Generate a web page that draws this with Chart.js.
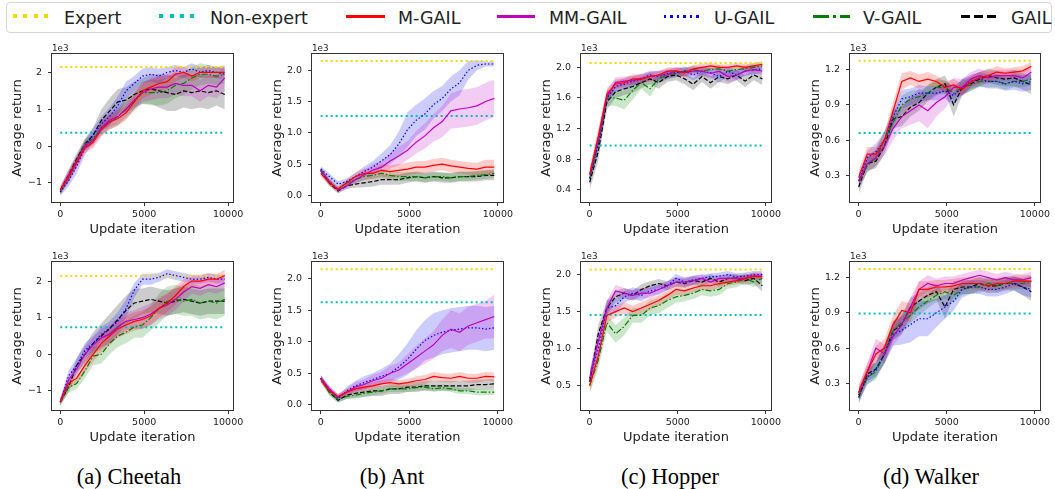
<!DOCTYPE html>
<html>
<head>
<meta charset="UTF-8">
<title>Average return of GAIL variants</title>
<script src="https://cdn.jsdelivr.net/npm/chart.js@4.4.0/dist/chart.umd.min.js"></script>
<style>
  body { margin:0; width:1055px; height:489px; background:#fff; position:relative; overflow:hidden; font-family:"DejaVu Sans", sans-serif; }
  canvas { position:absolute; }
  #legendBox { position:absolute; left:6px; top:2px; width:1044px; height:29px; border:1px solid #d6d6d6; border-radius:4px; }
  .key { position:absolute; top:15px; height:3px; }
  .lab { position:absolute; top:8px; font-size:17.5px; line-height:20px; color:#222; white-space:nowrap; }
  .cap { position:absolute; top:464px; font-family:"Liberation Serif", serif; font-size:22.5px; line-height:26px; color:#000; white-space:nowrap; transform:translateX(-50%); }
</style>
</head>
<body>
<div id="legendBox"></div>
<div class="key" style="left:13px;width:35px;height:4px;top:14px;background:repeating-linear-gradient(90deg,#ffd700 0 4px,transparent 4px 10.5px)"></div>
<div class="lab" style="left:64px">Expert</div>
<div class="key" style="left:159px;width:35px;height:4px;top:14px;background:repeating-linear-gradient(90deg,#00bfbf 0 4px,transparent 4px 10.5px)"></div>
<div class="lab" style="left:210px">Non-expert</div>
<div class="key" style="left:346px;width:39px;background:#ff0000"></div>
<div class="lab" style="left:398px">M-GAIL</div>
<div class="key" style="left:497px;width:38px;background:#bf00bf"></div>
<div class="lab" style="left:549px">MM-GAIL</div>
<div class="key" style="left:664px;width:37px;background:repeating-linear-gradient(90deg,#0000ff 0 2.5px,transparent 2.5px 6.5px)"></div>
<div class="lab" style="left:714px">U-GAIL</div>
<div class="key" style="left:813px;width:37px;background:linear-gradient(90deg,#008000 0 16px,transparent 16px 20px,#008000 20px 23px,transparent 23px 27px,#008000 27px 37px)"></div>
<div class="lab" style="left:863px">V-GAIL</div>
<div class="key" style="left:961px;width:35px;background:repeating-linear-gradient(90deg,#000 0 9px,transparent 9px 13px)"></div>
<div class="lab" style="left:1011px">GAIL</div>

<div class="cap" style="left:129px">(a) Cheetah</div>
<div class="cap" style="left:392px">(b) Ant</div>
<div class="cap" style="left:670px">(c) Hopper</div>
<div class="cap" style="left:931px">(d) Walker</div>

<script>
    // update iterations shared by every curve
    const iters = [0, 490, 980, 1470, 1960, 2450, 2940, 3430, 3920, 4410, 4900, 5390, 5880, 6370, 6860, 7350, 7840, 8330, 8820, 9310, 9800];

    // average return (x1e3), top row
    const cheetahA_M  = [-1.2, -0.85, -0.45, -0.05, 0.1, 0.45, 0.65, 0.75, 0.9, 1.2, 1.5, 1.6, 1.7, 1.75, 1.95, 2.0, 1.9, 2.0, 2.0, 2.0, 2.0];
    const cheetahA_MM = [-1.2, -0.8, -0.4, 0.0, 0.15, 0.5, 0.7, 0.8, 1.0, 1.25, 1.45, 1.55, 1.6, 1.6, 1.7, 1.65, 1.65, 1.5, 1.65, 1.6, 1.85];
    const cheetahA_U  = [-1.25, -0.95, -0.55, -0.05, 0.3, 0.6, 0.8, 1.1, 1.5, 1.7, 1.9, 1.95, 1.9, 2.0, 2.05, 2.0, 2.1, 2.0, 2.05, 2.0, 1.95];
    const cheetahA_V  = [-1.25, -0.85, -0.4, 0.05, 0.2, 0.5, 0.65, 0.8, 1.0, 1.2, 1.45, 1.45, 1.45, 1.5, 1.65, 1.7, 1.85, 1.95, 1.95, 1.9, 1.95];
    const cheetahA_G  = [-1.2, -0.8, -0.35, 0.05, 0.3, 0.7, 0.95, 1.2, 1.25, 1.4, 1.5, 1.55, 1.5, 1.45, 1.4, 1.5, 1.45, 1.5, 1.45, 1.5, 1.4];

    const antA_M  = [0.35, 0.2, 0.1, 0.2, 0.3, 0.35, 0.35, 0.4, 0.38, 0.4, 0.42, 0.45, 0.45, 0.48, 0.5, 0.47, 0.45, 0.43, 0.42, 0.45, 0.45];
    const antA_MM = [0.4, 0.22, 0.08, 0.15, 0.25, 0.33, 0.4, 0.45, 0.55, 0.63, 0.72, 0.85, 0.95, 1.08, 1.18, 1.35, 1.38, 1.4, 1.43, 1.5, 1.55];
    const antA_U  = [0.42, 0.3, 0.18, 0.22, 0.3, 0.38, 0.45, 0.55, 0.65, 0.82, 1.05, 1.2, 1.3, 1.45, 1.55, 1.7, 1.8, 2.0, 2.08, 2.1, 2.1];
    const antA_V  = [0.4, 0.22, 0.1, 0.2, 0.25, 0.3, 0.32, 0.35, 0.32, 0.3, 0.3, 0.3, 0.28, 0.3, 0.3, 0.28, 0.3, 0.3, 0.32, 0.33, 0.35];
    const antA_G  = [0.4, 0.2, 0.07, 0.15, 0.18, 0.2, 0.22, 0.25, 0.25, 0.25, 0.28, 0.3, 0.28, 0.3, 0.28, 0.28, 0.3, 0.3, 0.3, 0.32, 0.32];

    const hopperA_M  = [0.6, 1.1, 1.65, 1.78, 1.8, 1.85, 1.85, 1.88, 1.9, 1.95, 1.95, 1.93, 1.98, 2.0, 2.02, 2.0, 2.0, 2.02, 2.0, 2.02, 2.04];
    const hopperA_MM = [0.6, 1.05, 1.62, 1.8, 1.82, 1.83, 1.85, 1.88, 1.9, 1.9, 1.95, 1.93, 1.95, 1.95, 1.92, 1.95, 1.88, 1.9, 1.95, 1.97, 1.95];
    const hopperA_U  = [0.55, 1.0, 1.6, 1.75, 1.78, 1.82, 1.85, 1.9, 1.88, 1.92, 1.93, 1.95, 1.9, 1.95, 1.93, 1.88, 1.95, 1.9, 1.95, 1.97, 1.98];
    const hopperA_V  = [0.55, 1.0, 1.6, 1.6, 1.57, 1.7, 1.8, 1.72, 1.85, 1.9, 1.92, 1.95, 1.97, 1.95, 1.97, 1.98, 1.95, 1.97, 1.98, 2.0, 2.02];
    const hopperA_G  = [0.5, 0.9, 1.55, 1.68, 1.72, 1.75, 1.8, 1.85, 1.8, 1.88, 1.9, 1.85, 1.78, 1.88, 1.8, 1.88, 1.85, 1.9, 1.82, 1.9, 1.85];

    const walkerA_M  = [0.28, 0.48, 0.48, 0.6, 0.85, 1.1, 1.13, 1.1, 1.12, 1.1, 1.05, 1.07, 1.03, 1.1, 1.13, 1.15, 1.18, 1.17, 1.18, 1.19, 1.23];
    const walkerA_MM = [0.25, 0.4, 0.45, 0.55, 0.7, 0.8, 0.85, 0.9, 0.85, 0.92, 0.97, 1.05, 1.05, 1.12, 1.15, 1.13, 1.15, 1.15, 1.15, 1.13, 1.18];
    const walkerA_U  = [0.25, 0.45, 0.5, 0.6, 0.8, 0.95, 0.97, 1.0, 1.0, 1.0, 1.02, 0.98, 1.05, 1.1, 1.12, 1.1, 1.1, 1.08, 1.1, 1.08, 1.1];
    const walkerA_V  = [0.25, 0.38, 0.45, 0.6, 0.75, 0.9, 0.95, 0.97, 1.0, 1.05, 1.05, 1.0, 1.05, 1.07, 1.1, 1.1, 1.1, 1.08, 1.1, 1.1, 1.12];
    const walkerA_G  = [0.2, 0.4, 0.42, 0.55, 0.78, 0.8, 0.88, 0.92, 1.0, 1.05, 1.08, 0.9, 1.05, 1.08, 1.12, 1.15, 1.13, 1.12, 1.13, 1.1, 1.07];

    // average return (x1e3), bottom row
    const cheetahB_M  = [-1.3, -0.8, -0.65, -0.3, 0.0, 0.3, 0.5, 0.7, 0.8, 0.9, 0.95, 1.05, 1.25, 1.4, 1.6, 1.85, 2.0, 2.0, 2.05, 2.05, 2.15];
    const cheetahB_MM = [-1.3, -0.7, -0.4, 0.0, 0.25, 0.45, 0.55, 0.75, 0.9, 0.95, 1.0, 1.1, 1.25, 1.35, 1.5, 1.7, 1.85, 1.8, 1.9, 1.85, 1.95];
    const cheetahB_U  = [-1.3, -0.6, -0.3, 0.1, 0.3, 0.55, 0.7, 0.9, 1.25, 1.75, 2.05, 2.05, 2.1, 2.2, 2.15, 2.1, 2.05, 2.05, 2.1, 2.05, 2.05];
    const cheetahB_V  = [-1.3, -0.9, -0.8, -0.45, -0.05, 0.0, 0.3, 0.5, 0.6, 0.75, 0.8, 1.0, 1.25, 1.45, 1.5, 1.45, 1.5, 1.4, 1.45, 1.4, 1.5];
    const cheetahB_G  = [-1.3, -0.9, -0.3, 0.0, 0.3, 0.5, 0.7, 0.95, 1.2, 1.4, 1.45, 1.5, 1.45, 1.4, 1.45, 1.5, 1.45, 1.4, 1.45, 1.45, 1.45];

    const antB_M  = [0.4, 0.22, 0.13, 0.2, 0.25, 0.28, 0.3, 0.33, 0.35, 0.33, 0.35, 0.38, 0.4, 0.45, 0.43, 0.42, 0.45, 0.42, 0.42, 0.45, 0.44];
    const antB_MM = [0.42, 0.25, 0.12, 0.2, 0.28, 0.32, 0.38, 0.42, 0.5, 0.55, 0.65, 0.75, 0.85, 0.95, 1.1, 1.2, 1.15, 1.25, 1.3, 1.35, 1.4];
    const antB_U  = [0.42, 0.25, 0.1, 0.22, 0.3, 0.35, 0.4, 0.45, 0.5, 0.6, 0.72, 0.88, 1.02, 1.1, 1.15, 1.18, 1.2, 1.22, 1.22, 1.2, 1.22];
    const antB_V  = [0.42, 0.2, 0.08, 0.13, 0.15, 0.18, 0.2, 0.22, 0.25, 0.25, 0.25, 0.27, 0.28, 0.25, 0.27, 0.25, 0.22, 0.22, 0.2, 0.2, 0.2];
    const antB_G  = [0.42, 0.2, 0.07, 0.15, 0.18, 0.2, 0.22, 0.22, 0.25, 0.25, 0.28, 0.28, 0.3, 0.3, 0.3, 0.3, 0.3, 0.3, 0.32, 0.32, 0.33];

    const hopperB_M  = [0.5, 0.9, 1.45, 1.5, 1.55, 1.5, 1.55, 1.6, 1.65, 1.72, 1.8, 1.78, 1.82, 1.85, 1.85, 1.88, 1.9, 1.92, 1.95, 1.98, 1.97];
    const hopperB_MM = [0.6, 1.1, 1.55, 1.78, 1.75, 1.72, 1.75, 1.75, 1.8, 1.85, 1.9, 1.9, 1.92, 1.95, 1.9, 1.95, 1.95, 1.95, 1.95, 1.98, 1.98];
    const hopperB_U  = [0.6, 1.0, 1.55, 1.58, 1.7, 1.75, 1.72, 1.78, 1.8, 1.85, 1.95, 1.9, 1.93, 1.95, 1.97, 1.98, 2.0, 1.97, 1.98, 2.0, 2.0];
    const hopperB_V  = [0.5, 0.85, 1.35, 1.2, 1.3, 1.45, 1.45, 1.55, 1.58, 1.65, 1.7, 1.72, 1.75, 1.8, 1.78, 1.8, 1.88, 1.9, 1.95, 1.9, 1.95];
    const hopperB_G  = [0.55, 1.2, 1.55, 1.7, 1.75, 1.72, 1.8, 1.85, 1.88, 1.85, 1.9, 1.88, 1.92, 1.9, 1.95, 1.9, 1.95, 1.95, 1.92, 1.95, 1.85];

    const walkerB_M  = [0.22, 0.4, 0.55, 0.6, 0.8, 0.92, 0.9, 1.1, 1.1, 1.12, 1.12, 1.13, 1.15, 1.15, 1.15, 1.13, 1.15, 1.15, 1.17, 1.17, 1.17];
    const walkerB_MM = [0.22, 0.4, 0.6, 0.55, 0.7, 0.8, 0.95, 1.1, 1.15, 1.13, 1.15, 1.15, 1.18, 1.2, 1.22, 1.2, 1.18, 1.2, 1.18, 1.18, 1.2];
    const walkerB_U  = [0.2, 0.35, 0.42, 0.55, 0.72, 0.75, 0.8, 0.85, 0.85, 0.9, 0.95, 1.0, 1.1, 1.12, 1.12, 1.1, 1.1, 1.12, 1.15, 1.12, 1.1];
    const walkerB_V  = [0.2, 0.35, 0.4, 0.55, 0.75, 0.82, 0.88, 0.95, 1.0, 1.05, 1.08, 1.05, 1.1, 1.12, 1.12, 1.15, 1.13, 1.15, 1.15, 1.15, 1.17];
    const walkerB_G  = [0.18, 0.38, 0.42, 0.55, 0.75, 0.8, 0.95, 1.0, 1.05, 1.08, 0.95, 1.1, 1.12, 1.12, 1.15, 1.13, 1.13, 1.15, 1.15, 1.12, 1.08];

    // spread (x1e3) of the shaded bands
    const cheetahA_M_sd  = [0.1, 0.15, 0.15, 0.15, 0.15, 0.2, 0.2, 0.2, 0.2, 0.2, 0.2, 0.2, 0.2, 0.2, 0.2, 0.15, 0.15, 0.15, 0.15, 0.15, 0.15];
    const cheetahA_MM_sd = [0.1, 0.15, 0.15, 0.15, 0.15, 0.2, 0.2, 0.2, 0.2, 0.25, 0.25, 0.3, 0.3, 0.3, 0.3, 0.3, 0.3, 0.3, 0.3, 0.3, 0.35];
    const cheetahA_U_sd  = [0.1, 0.15, 0.2, 0.2, 0.2, 0.2, 0.25, 0.25, 0.25, 0.2, 0.2, 0.2, 0.2, 0.15, 0.15, 0.15, 0.15, 0.15, 0.15, 0.15, 0.15];
    const cheetahA_V_sd  = [0.1, 0.15, 0.15, 0.15, 0.15, 0.2, 0.2, 0.25, 0.25, 0.25, 0.3, 0.35, 0.35, 0.35, 0.35, 0.3, 0.3, 0.3, 0.25, 0.25, 0.25];
    const cheetahA_G_sd  = [0.1, 0.15, 0.15, 0.15, 0.2, 0.3, 0.35, 0.35, 0.35, 0.35, 0.35, 0.4, 0.45, 0.5, 0.45, 0.45, 0.45, 0.45, 0.45, 0.4, 0.4];

    const antA_M_sd  = [0.05, 0.05, 0.04, 0.05, 0.06, 0.08, 0.08, 0.1, 0.1, 0.1, 0.1, 0.1, 0.1, 0.1, 0.1, 0.1, 0.1, 0.1, 0.1, 0.12, 0.12];
    const antA_MM_sd = [0.05, 0.05, 0.04, 0.05, 0.06, 0.08, 0.1, 0.1, 0.12, 0.15, 0.15, 0.18, 0.2, 0.22, 0.25, 0.28, 0.3, 0.3, 0.3, 0.3, 0.3];
    const antA_U_sd  = [0.05, 0.05, 0.05, 0.05, 0.06, 0.08, 0.1, 0.12, 0.15, 0.2, 0.28, 0.25, 0.25, 0.22, 0.2, 0.2, 0.2, 0.15, 0.08, 0.04, 0.04];
    const antA_V_sd  = [0.05, 0.05, 0.04, 0.05, 0.05, 0.06, 0.06, 0.07, 0.07, 0.07, 0.07, 0.07, 0.07, 0.07, 0.07, 0.07, 0.07, 0.07, 0.07, 0.07, 0.07];
    const antA_G_sd  = [0.05, 0.05, 0.04, 0.05, 0.06, 0.07, 0.08, 0.08, 0.08, 0.08, 0.08, 0.08, 0.08, 0.08, 0.08, 0.08, 0.08, 0.08, 0.08, 0.08, 0.08];

    const hopperA_M_sd  = [0.08, 0.1, 0.08, 0.06, 0.06, 0.06, 0.06, 0.06, 0.05, 0.05, 0.05, 0.05, 0.05, 0.05, 0.04, 0.04, 0.04, 0.04, 0.04, 0.04, 0.04];
    const hopperA_MM_sd = [0.1, 0.1, 0.08, 0.07, 0.06, 0.06, 0.06, 0.06, 0.06, 0.06, 0.05, 0.06, 0.06, 0.06, 0.07, 0.06, 0.08, 0.07, 0.06, 0.05, 0.05];
    const hopperA_U_sd  = [0.08, 0.1, 0.08, 0.07, 0.07, 0.06, 0.06, 0.06, 0.07, 0.06, 0.06, 0.06, 0.07, 0.06, 0.06, 0.08, 0.06, 0.07, 0.06, 0.06, 0.05];
    const hopperA_V_sd  = [0.08, 0.12, 0.1, 0.1, 0.12, 0.12, 0.08, 0.1, 0.06, 0.06, 0.05, 0.05, 0.05, 0.05, 0.05, 0.05, 0.05, 0.05, 0.05, 0.05, 0.05];
    const hopperA_G_sd  = [0.1, 0.12, 0.1, 0.08, 0.08, 0.08, 0.07, 0.07, 0.08, 0.07, 0.07, 0.07, 0.08, 0.07, 0.08, 0.07, 0.07, 0.07, 0.08, 0.07, 0.08];

    const walkerA_M_sd  = [0.06, 0.06, 0.06, 0.07, 0.08, 0.07, 0.06, 0.06, 0.06, 0.05, 0.05, 0.05, 0.05, 0.05, 0.05, 0.05, 0.05, 0.04, 0.04, 0.04, 0.04];
    const walkerA_MM_sd = [0.06, 0.07, 0.07, 0.08, 0.1, 0.1, 0.12, 0.14, 0.15, 0.12, 0.1, 0.08, 0.07, 0.06, 0.06, 0.05, 0.05, 0.05, 0.05, 0.05, 0.05];
    const walkerA_U_sd  = [0.06, 0.06, 0.07, 0.07, 0.08, 0.08, 0.07, 0.07, 0.06, 0.06, 0.07, 0.08, 0.07, 0.06, 0.06, 0.06, 0.06, 0.06, 0.07, 0.07, 0.07];
    const walkerA_V_sd  = [0.06, 0.06, 0.07, 0.08, 0.08, 0.08, 0.07, 0.06, 0.06, 0.06, 0.06, 0.06, 0.06, 0.05, 0.05, 0.05, 0.05, 0.05, 0.05, 0.05, 0.05];
    const walkerA_G_sd  = [0.06, 0.06, 0.06, 0.07, 0.08, 0.08, 0.08, 0.07, 0.07, 0.07, 0.07, 0.1, 0.07, 0.06, 0.06, 0.06, 0.06, 0.06, 0.07, 0.07, 0.08];

    const cheetahB_M_sd  = [0.1, 0.15, 0.15, 0.2, 0.2, 0.25, 0.25, 0.25, 0.25, 0.25, 0.25, 0.25, 0.25, 0.25, 0.25, 0.2, 0.15, 0.15, 0.15, 0.15, 0.15];
    const cheetahB_MM_sd = [0.1, 0.15, 0.15, 0.2, 0.2, 0.25, 0.25, 0.25, 0.25, 0.25, 0.3, 0.3, 0.3, 0.3, 0.3, 0.25, 0.2, 0.2, 0.2, 0.2, 0.2];
    const cheetahB_U_sd  = [0.1, 0.15, 0.2, 0.2, 0.2, 0.2, 0.2, 0.25, 0.25, 0.2, 0.15, 0.15, 0.12, 0.12, 0.12, 0.12, 0.12, 0.12, 0.12, 0.12, 0.12];
    const cheetahB_V_sd  = [0.1, 0.15, 0.15, 0.2, 0.25, 0.25, 0.3, 0.3, 0.3, 0.3, 0.35, 0.35, 0.4, 0.4, 0.4, 0.4, 0.45, 0.45, 0.45, 0.45, 0.45];
    const cheetahB_G_sd  = [0.1, 0.15, 0.2, 0.25, 0.3, 0.35, 0.4, 0.4, 0.4, 0.4, 0.35, 0.35, 0.35, 0.35, 0.35, 0.35, 0.35, 0.35, 0.35, 0.35, 0.35];

    const antB_M_sd  = [0.05, 0.05, 0.04, 0.05, 0.05, 0.06, 0.06, 0.06, 0.06, 0.06, 0.06, 0.07, 0.07, 0.07, 0.07, 0.07, 0.07, 0.07, 0.07, 0.07, 0.07];
    const antB_MM_sd = [0.05, 0.05, 0.05, 0.06, 0.08, 0.08, 0.1, 0.1, 0.12, 0.12, 0.15, 0.18, 0.2, 0.22, 0.25, 0.3, 0.3, 0.3, 0.3, 0.3, 0.35];
    const antB_U_sd  = [0.05, 0.05, 0.05, 0.06, 0.08, 0.1, 0.1, 0.12, 0.15, 0.2, 0.25, 0.3, 0.32, 0.35, 0.35, 0.35, 0.35, 0.35, 0.35, 0.35, 0.35];
    const antB_V_sd  = [0.05, 0.05, 0.04, 0.04, 0.05, 0.05, 0.05, 0.05, 0.05, 0.05, 0.05, 0.05, 0.05, 0.05, 0.05, 0.05, 0.05, 0.05, 0.05, 0.05, 0.05];
    const antB_G_sd  = [0.05, 0.05, 0.04, 0.06, 0.07, 0.08, 0.08, 0.08, 0.08, 0.08, 0.08, 0.08, 0.08, 0.08, 0.08, 0.08, 0.08, 0.08, 0.08, 0.08, 0.08];

    const hopperB_M_sd  = [0.1, 0.12, 0.1, 0.08, 0.08, 0.08, 0.08, 0.08, 0.07, 0.07, 0.07, 0.07, 0.06, 0.06, 0.06, 0.06, 0.05, 0.05, 0.05, 0.05, 0.05];
    const hopperB_MM_sd = [0.1, 0.12, 0.1, 0.08, 0.07, 0.07, 0.07, 0.07, 0.06, 0.06, 0.06, 0.06, 0.06, 0.06, 0.06, 0.05, 0.05, 0.05, 0.05, 0.05, 0.05];
    const hopperB_U_sd  = [0.1, 0.12, 0.1, 0.1, 0.08, 0.08, 0.08, 0.07, 0.07, 0.06, 0.06, 0.06, 0.06, 0.05, 0.05, 0.05, 0.05, 0.05, 0.05, 0.05, 0.05];
    const hopperB_V_sd  = [0.1, 0.12, 0.12, 0.12, 0.12, 0.1, 0.1, 0.1, 0.1, 0.1, 0.08, 0.08, 0.08, 0.08, 0.08, 0.08, 0.07, 0.07, 0.07, 0.07, 0.07];
    const hopperB_G_sd  = [0.1, 0.12, 0.1, 0.08, 0.07, 0.07, 0.07, 0.06, 0.06, 0.06, 0.06, 0.06, 0.06, 0.06, 0.06, 0.06, 0.06, 0.06, 0.06, 0.07, 0.08];

    const walkerB_M_sd  = [0.06, 0.07, 0.07, 0.08, 0.08, 0.08, 0.08, 0.07, 0.07, 0.06, 0.06, 0.06, 0.05, 0.05, 0.05, 0.05, 0.05, 0.05, 0.05, 0.05, 0.05];
    const walkerB_MM_sd = [0.06, 0.07, 0.08, 0.08, 0.08, 0.08, 0.08, 0.07, 0.07, 0.06, 0.06, 0.06, 0.05, 0.05, 0.05, 0.05, 0.05, 0.05, 0.05, 0.05, 0.05];
    const walkerB_U_sd  = [0.06, 0.06, 0.07, 0.08, 0.1, 0.12, 0.15, 0.15, 0.15, 0.12, 0.1, 0.08, 0.07, 0.06, 0.06, 0.06, 0.06, 0.06, 0.06, 0.07, 0.07];
    const walkerB_V_sd  = [0.06, 0.06, 0.07, 0.08, 0.08, 0.08, 0.07, 0.07, 0.06, 0.06, 0.06, 0.06, 0.05, 0.05, 0.05, 0.05, 0.05, 0.05, 0.05, 0.05, 0.05];
    const walkerB_G_sd  = [0.06, 0.06, 0.06, 0.08, 0.08, 0.08, 0.08, 0.07, 0.07, 0.07, 0.1, 0.07, 0.06, 0.06, 0.06, 0.06, 0.06, 0.06, 0.06, 0.07, 0.08];

    // reference levels per panel: a,b,c,d top then a,b,c,d bottom
    const expertLevel    = [2.15, 2.15, 2.056, 1.277, 2.14, 2.148, 2.068, 1.274];
    const nonExpertLevel = [0.36, 1.27, 0.98, 0.66, 0.74, 1.627, 1.454, 0.894];

    const yMin = [-1.52, -0.107, 0.243, 0.072, -1.52, -0.084, 0.171, 0.073];
    const yMax = [2.5, 2.26, 2.174, 1.334, 2.52, 2.264, 2.171, 1.333];
    const yTicks = [
        [-1, 0, 1, 2], [0, 0.5, 1, 1.5, 2], [0.4, 0.8, 1.2, 1.6, 2.0], [0.3, 0.6, 0.9, 1.2],
        [-1, 0, 1, 2], [0, 0.5, 1, 1.5, 2], [0.5, 1, 1.5, 2], [0.3, 0.6, 0.9, 1.2]
    ];
    const yDecimals = [0, 1, 1, 1, 0, 1, 1, 1];
    const xTicks = [0, 5000, 10000];

    const panelMeans = [
        [cheetahA_M, cheetahA_MM, cheetahA_U, cheetahA_V, cheetahA_G],
        [antA_M, antA_MM, antA_U, antA_V, antA_G],
        [hopperA_M, hopperA_MM, hopperA_U, hopperA_V, hopperA_G],
        [walkerA_M, walkerA_MM, walkerA_U, walkerA_V, walkerA_G],
        [cheetahB_M, cheetahB_MM, cheetahB_U, cheetahB_V, cheetahB_G],
        [antB_M, antB_MM, antB_U, antB_V, antB_G],
        [hopperB_M, hopperB_MM, hopperB_U, hopperB_V, hopperB_G],
        [walkerB_M, walkerB_MM, walkerB_U, walkerB_V, walkerB_G]
    ];
    const panelSds = [
        [cheetahA_M_sd, cheetahA_MM_sd, cheetahA_U_sd, cheetahA_V_sd, cheetahA_G_sd],
        [antA_M_sd, antA_MM_sd, antA_U_sd, antA_V_sd, antA_G_sd],
        [hopperA_M_sd, hopperA_MM_sd, hopperA_U_sd, hopperA_V_sd, hopperA_G_sd],
        [walkerA_M_sd, walkerA_MM_sd, walkerA_U_sd, walkerA_V_sd, walkerA_G_sd],
        [cheetahB_M_sd, cheetahB_MM_sd, cheetahB_U_sd, cheetahB_V_sd, cheetahB_G_sd],
        [antB_M_sd, antB_MM_sd, antB_U_sd, antB_V_sd, antB_G_sd],
        [hopperB_M_sd, hopperB_MM_sd, hopperB_U_sd, hopperB_V_sd, hopperB_G_sd],
        [walkerB_M_sd, walkerB_MM_sd, walkerB_U_sd, walkerB_V_sd, walkerB_G_sd]
    ];

    const seriesNames = ['M-GAIL', 'MM-GAIL', 'U-GAIL', 'V-GAIL', 'GAIL'];
    const lineColors = ['#ff0000', '#bf00bf', '#0000ff', '#008000', '#000000'];
    const bandColors = ['rgba(255,0,0,0.2)', 'rgba(191,0,191,0.2)', 'rgba(0,0,255,0.2)', 'rgba(0,128,0,0.2)', 'rgba(0,0,0,0.2)'];
    const lineDashes = [[], [], [1.5, 2], [6, 2, 1.5, 2], [4.5, 2]];

    // plot boxes on the page
    const plotLeft = [52, 312, 581, 850];
    const plotWidth = [181, 191, 190, 190];
    const plotTop = [54, 262];
    const plotHeight = 148;

    const tickFont = {family: 'DejaVu Sans', size: 9.5};
    const titleFont = {family: 'DejaVu Sans', size: 13};

    const framePlugin = {
        id: 'frame',
        afterDatasetsDraw(chart) {
            const ctx = chart.ctx, a = chart.chartArea;
            ctx.save();
            ctx.strokeStyle = '#333';
            ctx.lineWidth = 1;
            ctx.strokeRect(a.left - 0.5, a.top - 0.5, a.right - a.left + 1, a.bottom - a.top + 1);
            ctx.fillStyle = '#222';
            ctx.font = '8.8px "DejaVu Sans"';
            ctx.textAlign = 'left';
            ctx.textBaseline = 'alphabetic';
            ctx.fillText('1e3', a.left, a.top - 3.5);
            ctx.restore();
        }
    };

    function points(ys) {
        return iters.map((x, i) => ({x: x, y: ys[i]}));
    }

    panelMeans.forEach((means, p) => {
        const col = p % 4, row = Math.floor(p / 4);
        const w = 52 + plotWidth[col] + 16, h = 14 + plotHeight + 45;
        const cv = document.createElement('canvas');
        cv.width = w; cv.height = h;
        cv.style.width = w + 'px'; cv.style.height = h + 'px';
        cv.style.left = (plotLeft[col] - 52) + 'px';
        cv.style.top = (plotTop[row] - 14) + 'px';
        document.body.appendChild(cv);

        let datasets = [];
        means.forEach((m, s) => {
            datasets.push({label: seriesNames[s], data: points(m), borderColor: lineColors[s],
                borderWidth: 1.2, borderDash: lineDashes[s], pointRadius: 0, fill: false});
        });
        const ends = [iters[0], iters[iters.length - 1]];
        datasets.push({label: 'Expert', data: ends.map(x => ({x: x, y: expertLevel[p]})),
            borderColor: '#ffd700', borderWidth: 2, borderDash: [2, 3], pointRadius: 0, fill: false});
        datasets.push({label: 'Non-expert', data: ends.map(x => ({x: x, y: nonExpertLevel[p]})),
            borderColor: '#00bfbf', borderWidth: 2, borderDash: [2, 3], pointRadius: 0, fill: false});
        means.forEach((m, s) => {
            const sd = panelSds[p][s];
            datasets.push({data: points(m.map((v, i) => v + sd[i])), borderColor: 'rgba(0,0,0,0)',
                borderWidth: 1, pointRadius: 0, fill: '+1', backgroundColor: bandColors[s]});
            datasets.push({data: points(m.map((v, i) => v - sd[i])), borderColor: 'rgba(0,0,0,0)',
                borderWidth: 1, pointRadius: 0, fill: false});
        });

        new Chart(cv.getContext('2d'), {
            type: 'line',
            data: {datasets: datasets},
            plugins: [framePlugin],
            options: {
                responsive: false,
                animation: false,
                layout: {padding: {top: 14, right: 16, left: 0, bottom: 0}},
                plugins: {
                    legend: {display: false},
                    tooltip: {enabled: false},
                    filler: {drawTime: 'beforeDatasetsDraw'}
                },
                scales: {
                    x: {
                        type: 'linear', min: -490, max: 10290,
                        afterBuildTicks: s => { s.ticks = xTicks.map(v => ({value: v})); },
                        afterFit: s => { s.height = 45; s.paddingLeft = 0; s.paddingRight = 0; },
                        ticks: {autoSkip: false, maxRotation: 0, padding: 3, color: '#222', font: tickFont,
                            callback: v => String(v)},
                        grid: {drawOnChartArea: false, tickLength: 4, color: '#333'},
                        border: {display: false},
                        title: {display: true, text: 'Update iteration', color: '#222', font: titleFont,
                            padding: {top: 0, bottom: 10}}
                    },
                    y: {
                        min: yMin[p], max: yMax[p],
                        afterBuildTicks: s => { s.ticks = yTicks[p].map(v => ({value: v})); },
                        afterFit: s => { s.width = 52; s.paddingTop = 0; s.paddingBottom = 0; },
                        ticks: {autoSkip: false, padding: 6, color: '#222', font: tickFont,
                            callback: v => (v < 0 ? '\u2212' : '') + Math.abs(v).toFixed(yDecimals[p])},
                        grid: {drawOnChartArea: false, tickLength: 4, color: '#333'},
                        border: {display: false},
                        title: {display: true, text: 'Average return', color: '#222', font: titleFont,
                            padding: {top: 10, bottom: 0}}
                    }
                }
            }
        });
    });
</script>
</body>
</html>
